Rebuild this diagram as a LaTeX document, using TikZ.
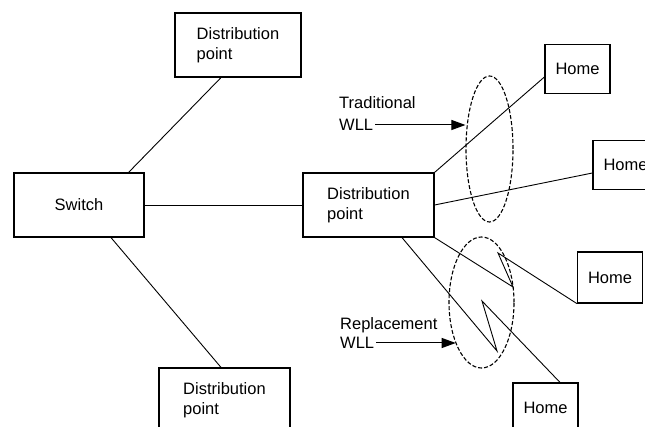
\documentclass[tikz,border=0pt]{standalone}
\usepackage{fontspec}
\setmainfont{Liberation Sans}
\usetikzlibrary{shapes.geometric,arrows.meta}

\tikzset{
	box/.style={draw, line width=1.2pt, align=left, inner sep=0pt,
		minimum width=#1, minimum height=64pt},
	box/.default=131pt,
	homebox/.style={draw, line width=1.2pt, inner sep=0pt,
		minimum width=65pt, minimum height=49pt},
	ring/.style={draw, ellipse, dash pattern=on 4pt off 2pt, line width=1.1pt, inner sep=0pt},
	link/.style={line width=.9pt},
	wlltext/.style={anchor=west, inner sep=2pt},
	wllarrow/.style={line width=1pt, -{Triangle[length=14pt,width=10pt]}},
}

\begin{document}
\begin{tikzpicture}[x=1pt, y=-1pt, font=\fontsize{16.5}{20}\selectfont]
	\useasboundingbox (0,0) rectangle (645,427);

	% exchange side
	\node[box=130pt] (switch) at (79,205)    {Switch};
	\node[box=126pt] (dptop)  at (238,45)    {Distribution\\point};
	\node[box]       (dpmid)  at (368.5,205) {Distribution\\point};
	\node[box]       (dpbot)  at (224.5,400) {Distribution\\point};

	% homes
	\node[homebox] (home1) at (577.5,69)  {Home};
	\node[homebox] (home2) at (625.5,165) {Home};
	\node[homebox, minimum height=51pt] (home3) at (610,277.5) {Home};
	\node[homebox, minimum height=50pt] (home4) at (545.5,408) {Home};

	% radio rings
	\node[ring, minimum width=47pt, minimum height=146pt] (tradring) at (489.5,149) {};
	\node[ring, minimum width=65pt, minimum height=131pt] (replring) at (481.5,302.5) {};

	\draw[link] ([xshift=-16pt]switch.north east) -- ([xshift=-17pt]dptop.south);
	\draw[link] ([xshift=32pt]switch.south) -- ([xshift=-3.5pt]dpbot.north);
	\draw[link] (switch.east) -- (dpmid.west);

	\draw[link] (dpmid.north east) -- ([yshift=-8pt]home1.west);
	\draw[link] (dpmid.east) -- ([yshift=-8pt]home2.west);

	% zig-zag drops through the replacement ring
	\coordinate (zigA) at (513,287);
	\coordinate (zigB) at (498,253);
	\coordinate (zigC) at (497,351);
	\coordinate (zigD) at (482,301);
	\draw[link] (dpmid.south east) -- (zigA) -- (zigB) -- (home3.south west);
	\draw[link] ([xshift=33.5pt]dpmid.south) -- (zigC) -- (zigD) -- ([xshift=14.5pt]home4.north);

	% labels
	\node[wlltext] (tradtop) at (337,103) {Traditional};
	\node[wlltext] (tradwll) at (337,125) {WLL};
	\node[wlltext] (repltop) at (338,325) {Replacement};
	\node[wlltext] (replwll) at (338,343) {WLL};
	\draw[wllarrow] (tradwll.east) -- (tradwll.east -| tradring.west);
	\draw[wllarrow] (replwll.east) -- (replwll.east -| replring.238);
\end{tikzpicture}
\end{document}
